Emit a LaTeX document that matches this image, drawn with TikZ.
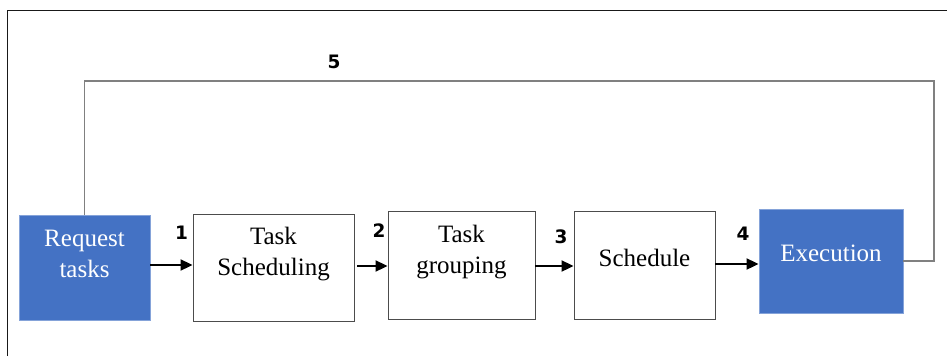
\documentclass[tikz,border=0pt]{standalone}
\usepackage{fontspec}
\setmainfont{Liberation Serif}
\newfontfamily\numfont{DejaVu Sans}
\usepackage{xcolor}
\usepackage{tikz}
\usetikzlibrary{arrows.meta}
\definecolor{boxblue}{HTML}{4472C4}

\begin{document}
\begin{tikzpicture}[x=1pt,y=1pt]
	\tikzstyle{every node}+=[inner sep=0pt]
	\tikzstyle{plainbox}=[draw=black!70,line width=0.9pt,fill=white]
	\tikzstyle{bluebox}=[draw=boxblue!65,line width=0.9pt,fill=boxblue]
	\tikzstyle{txt}=[font=\fontsize{25}{31}\selectfont,align=center]
	\tikzstyle{num}=[font=\numfont\bfseries\fontsize{18.5}{20}\selectfont]
	\tikzstyle{flow}=[-{Triangle[length=12pt,width=11pt]},line width=2pt,black]
	\tikzstyle{back}=[draw=black!50,line width=1.1pt]
	\useasboundingbox (0,0) rectangle (947,-356);
	\draw [black!90,line width=1pt] (7,-356) -- (7,-10) -- (947,-10);
	\node [bluebox,minimum width=131pt,minimum height=105pt] (req) at (84.5,-267.5) {};
	\node [txt,white] (reqtxt) at (84.5,-254) {Request\\tasks};
	\node [plainbox,minimum width=161pt,minimum height=107pt] (tsch) at (273.5,-267.5) {};
	\node [txt] (tschtxt) at (273.5,-254.5) {Task\\Scheduling};
	\node [plainbox,minimum width=147pt,minimum height=108pt] (tgrp) at (461.5,-265) {};
	\node [txt] (tgrptxt) at (461.5,-252.5) {Task\\grouping};
	\node [plainbox,minimum width=141pt,minimum height=108pt] (sched) at (644.5,-265) {};
	\node [txt] (schedtxt) at (644.5,-257.5) {Schedule};
	\node [bluebox,minimum width=144pt,minimum height=104pt] (exec) at (831,-261) {};
	\node [txt,white] (exectxt) at (831,-253) {Execution};
	\coordinate (y1) at (0,-265);
	\coordinate (y2) at (0,-266);
	\coordinate (y3) at (0,-266);
	\coordinate (y4) at (0,-264);
	\draw [flow] (req.east |- y1) -- (tsch.west |- y1);
	\draw [flow,shorten <=3pt] (tsch.east |- y2) -- (tgrp.west |- y2);
	\draw [flow] (tgrp.east |- y3) -- (sched.west |- y3);
	\draw [flow] (sched.east |- y4) -- (exec.west |- y4);
	\coordinate (fb) at (934,-81);
	\draw [back] (req.north) |- (fb) |- (exec.east);
	\node [num] (n1) at (181.5,-233) {1};
	\node [num] (n2) at (379,-230.5) {2};
	\node [num] (n3) at (561,-237) {3};
	\node [num] (n4) at (743,-234) {4};
	\node [num] (n5) at (334,-61.5) {5};
\end{tikzpicture}
\end{document}
